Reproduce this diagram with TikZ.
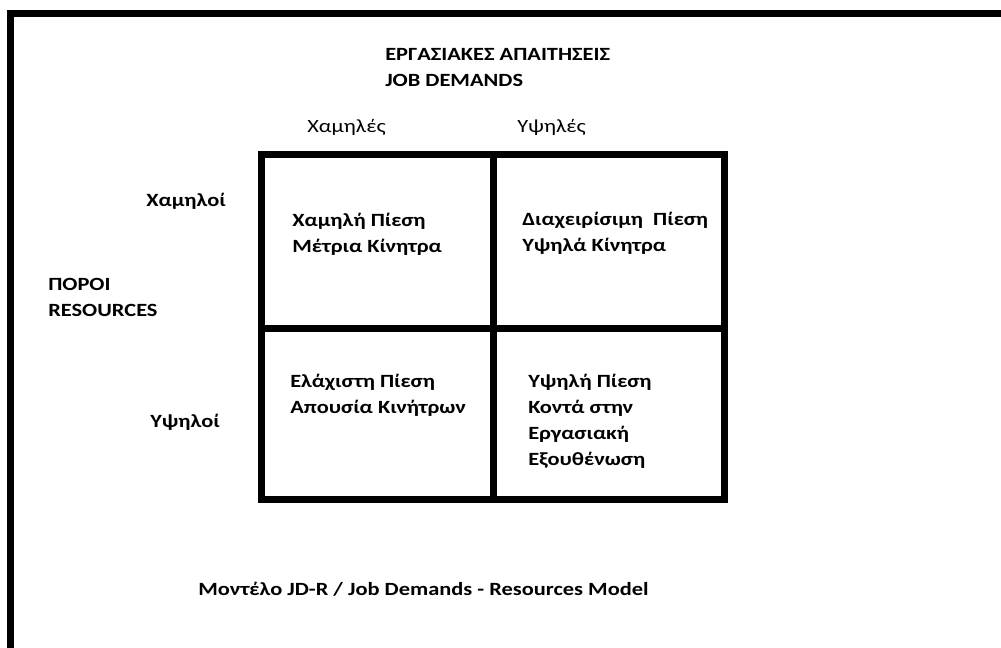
\documentclass[tikz,border=0pt]{standalone}
\usepackage{fontspec}
\setmainfont{Carlito}[FakeStretch=1.2]
\begin{document}
\begin{tikzpicture}[x=0.75pt,y=-0.75pt,
    plaintext/.style={anchor=base west, inner sep=0pt, align=left, font=\fontsize{14}{19.5}\selectfont},
    boldtext/.style={plaintext, font=\fontsize{14}{19.5}\selectfont\bfseries},
    thickline/.style={line width=5.25pt}]

    \useasboundingbox (0,0) rectangle (1001,648);

    %% Page frame
    \draw[thickline] (1010,13.5) -- (10.5,13.5) -- (10.5,660);

    %% Matrix
    % Outer box
    \draw[thickline] (261.5,155) rectangle (724.5,500);
    % Inner lines
    \draw[thickline] (493,155) -- (493,500);
    \draw[thickline] (261.5,328.5) -- (724.5,328.5);

    %% Demands axis (base = last line)
    \node[boldtext] (demands) at (385,87) {ΕΡΓΑΣΙΑΚΕΣ ΑΠΑΙΤΗΣΕΙΣ\\JOB DEMANDS};
    \node[plaintext] (lowdem) at (307,133) {Χαμηλές};
    \node[plaintext] (highdem) at (517,133) {Υψηλές};

    %% Resources axis
    \node[boldtext] (resources) at (48,317) {ΠΟΡΟΙ\\RESOURCES};
    \node[boldtext] (lowres) at (146,207) {Χαμηλοί};
    \node[boldtext] (highres) at (150,428) {Υψηλοί};

    %% Cells
    \node[boldtext] (cellA) at (292,253) {Χαμηλή Πίεση\\Μέτρια Κίνητρα};
    \node[boldtext] (cellB) at (522,252) {Διαχειρίσιμη\ \ Πίεση\\Υψηλά Κίνητρα};
    \node[boldtext] (cellC) at (290,414) {Ελάχιστη Πίεση\\Απουσία Κινήτρων};
    \node[boldtext] (cellD) at (528,466) {Υψηλή Πίεση\\Κοντά στην\\Εργασιακή\\Εξουθένωση};

    %% Caption
    \node[boldtext] (caption) at (198,596) {Μοντέλο JD-R / Job Demands - Resources Model};

\end{tikzpicture}
\end{document}
